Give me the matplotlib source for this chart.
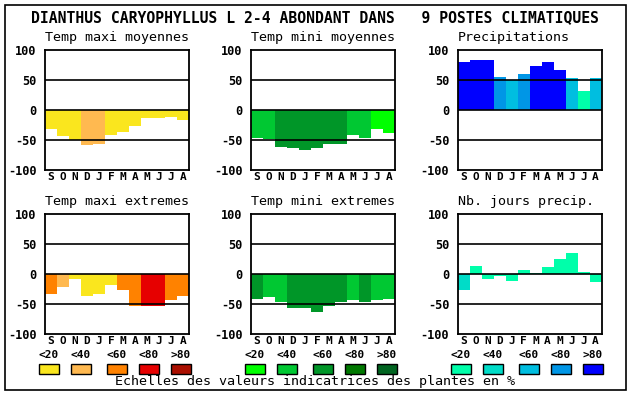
import matplotlib
matplotlib.use("Agg")
import matplotlib.pyplot as plt
from matplotlib.patches import Rectangle
import numpy as np

W, H = 630, 394

months = ["S", "O", "N", "D", "J", "F", "M", "A", "M", "J", "J", "A"]
yticks = [100, 50, 0, -50, -100]
class_labels = ["<20", "<40", "<60", "<80", ">80"]

pal_maxi = ["#FAE61E", "#FFB950", "#FF8200", "#E60000", "#AA0F00"]
pal_mini = ["#00FF00", "#00C832", "#009628", "#007800", "#006420"]
pal_prec = ["#00FFAA", "#00DCC8", "#00BEE0", "#0096E6", "#0000FF"]

title = "DIANTHUS CARYOPHYLLUS L 2-4 ABONDANT DANS   9 POSTES CLIMATIQUES"
footer = "Echelles des valeurs indicatrices des plantes en %"

# Panel data (value, colour class index 0..4)
tmax_moy_titre = "Temp maxi moyennes"
tmax_moy = [-31, -43, -50, -58, -56, -41, -37, -26, -13, -13, -11, -16]
tmax_moy_cls = [0, 0, 0, 1, 1, 0, 0, 0, 0, 0, 0, 0]

tmin_moy_titre = "Temp mini moyennes"
tmin_moy = [-46, -48, -61, -63, -66, -63, -56, -56, -41, -46, -31, -38]
tmin_moy_cls = [1, 1, 2, 2, 2, 2, 2, 2, 1, 1, 0, 0]

prec_titre = "Precipitations"
prec = [80, 83, 83, 55, 50, 60, 73, 80, 67, 53, 32, 53]
prec_cls = [4, 4, 4, 3, 2, 3, 4, 4, 4, 2, 0, 2]

tmax_ext_titre = "Temp maxi extremes"
tmax_ext = [-33, -21, -8, -36, -34, -18, -26, -54, -54, -53, -44, -36]
tmax_ext_cls = [2, 1, 0, 0, 0, 0, 2, 2, 3, 3, 2, 2]

tmin_ext_titre = "Temp mini extremes"
tmin_ext = [-41, -38, -46, -56, -56, -63, -54, -46, -44, -46, -44, -41]
tmin_ext_cls = [2, 1, 1, 2, 2, 2, 2, 2, 1, 2, 1, 1]

jours_titre = "Nb. jours precip."
jours = [-26, 13, -8, -4, -11, 7, 2, 12, 25, 35, 3, -13]
jours_cls = [1, 0, 0, 0, 0, 0, 0, 0, 0, 0, 0, 0]

panels = [
    (tmax_moy_titre, tmax_moy, tmax_moy_cls, pal_maxi, 45, 50),
    (tmin_moy_titre, tmin_moy, tmin_moy_cls, pal_mini, 251, 50),
    (prec_titre, prec, prec_cls, pal_prec, 457.5, 50),
    (tmax_ext_titre, tmax_ext, tmax_ext_cls, pal_maxi, 45, 214),
    (tmin_ext_titre, tmin_ext, tmin_ext_cls, pal_mini, 251, 214),
    (jours_titre, jours, jours_cls, pal_prec, 457.5, 214),
]

MONO = "DejaVu Sans Mono"

fig = plt.figure(figsize=(W / 100, H / 100), dpi=100)
fig.patch.set_facecolor("white")

def fx(x):
    return x / W

def fy(y):
    return 1 - y / H

# outer frame
fig.patches.append(Rectangle((fx(5), fy(390)), fx(626) - fx(5), fy(5) - fy(390),
                             transform=fig.transFigure, fill=False, edgecolor="black",
                             linewidth=1.2))

fig.text(fx(315), fy(18), title, ha="center", va="center", family=MONO,
         fontsize=10.6, fontweight="bold")

pw, ph = 144, 120
for (name, vals, cls, pal, x0, y0) in panels:
    ax = fig.add_axes([fx(x0), fy(y0 + ph), pw / W, ph / H])
    x = np.arange(len(vals))
    ax.bar(x, vals, width=1.0, align="edge", color=[pal[c] for c in cls],
           linewidth=0, zorder=1)
    for g in (50, 0, -50):
        ax.axhline(g, color="black", linewidth=1.2, zorder=3)
    ax.set_xlim(0, 12)
    ax.set_ylim(-100, 100)
    ax.set_yticks(yticks)
    ax.set_yticklabels([str(t) for t in yticks], family=MONO, fontweight="bold",
                       fontsize=8.6)
    ax.set_xticks(x + 0.5)
    ax.set_xticklabels(months, family=MONO, fontweight="bold", fontsize=8)
    ax.tick_params(axis="y", length=0, pad=6)
    ax.tick_params(axis="x", length=0, pad=1.5)
    for s in ax.spines.values():
        s.set_linewidth(1.3)
        s.set_zorder(4)
    fig.text(fx(x0), fy(y0 - 12), name, ha="left", va="center", family=MONO,
             fontsize=9.6)

# legends
swatch_offsets = [0, 32, 68, 100, 132]
for pal, gx in ((pal_maxi, 39), (pal_mini, 245), (pal_prec, 451)):
    for off, col, lab in zip(swatch_offsets, pal, class_labels):
        sx = gx + off
        fig.patches.append(Rectangle((fx(sx), fy(374)), 20 / W, 10 / H,
                                     transform=fig.transFigure, facecolor=col,
                                     edgecolor="black", linewidth=1.0))
        fig.text(fx(sx + 10), fy(355.5), lab, ha="center", va="center", family=MONO,
                 fontsize=8, fontweight="bold")

fig.text(fx(315), fy(382), footer, ha="center", va="center", family=MONO,
         fontsize=9.6)

fig.savefig("out.png", dpi=100, facecolor="white")
